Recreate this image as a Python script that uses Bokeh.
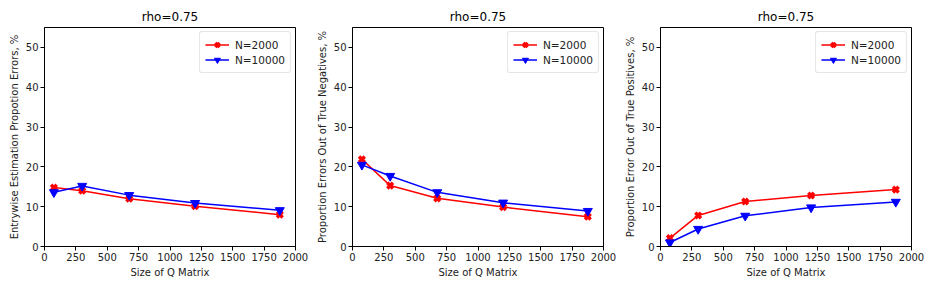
from bokeh.plotting import figure
from bokeh.layouts import row, column
from bokeh.embed import file_html
from bokeh.resources import INLINE
from bokeh.models import Range1d, FixedTicker, Spacer

q_size = [75, 300, 675, 1200, 1875]

err_2000 = [14.8, 14.0, 12.0, 10.1, 8.0]
err_10000 = [13.6, 15.2, 12.9, 10.9, 9.1]

tn_2000 = [21.9, 15.3, 12.1, 9.9, 7.5]
tn_10000 = [20.5, 17.7, 13.6, 11.0, 8.9]

tp_2000 = [2.1, 7.8, 11.3, 12.8, 14.3]
tp_10000 = [1.0, 4.4, 7.7, 9.8, 11.2]

titles = ["rho=0.75", "rho=0.75", "rho=0.75"]
ylabels = [
    "Entrywise Estimation Propotion Errors, %",
    "Proportion Errors Out of True Negatives, %",
    "Proportion Error Out of True Positives, %",
]
xlabel = "Size of Q Matrix"
series_labels = ["N=2000", "N=10000"]
x_ticks = [0, 250, 500, 750, 1000, 1250, 1500, 1750, 2000]
y_ticks = [0, 10, 20, 30, 40, 50]

data = [(err_2000, err_10000), (tn_2000, tn_10000), (tp_2000, tp_10000)]

FONT = "DejaVu Sans"
figs = []
for i, ((a, b), ttl, yl) in enumerate(zip(data, titles, ylabels)):
    p = figure(output_backend="svg", toolbar_location=None,
               x_range=Range1d(0, 2000), y_range=Range1d(0, 55),
               frame_width=251, frame_height=219,
               min_border_left=44, min_border_right=13, min_border_top=19, min_border_bottom=28)
    p.title.text = ttl
    p.title.align = "center"
    p.title.text_font = FONT
    p.title.text_font_size = "12px"
    p.title.text_font_style = "normal"
    p.title.text_color = "#000000"
    p.title.standoff = 8
    p.xgrid.visible = False
    p.ygrid.visible = False
    p.outline_line_color = "#000000"
    p.outline_line_alpha = 1.0
    p.background_fill_color = "white"
    p.border_fill_color = "white"
    for ax in (p.xaxis[0], p.yaxis[0]):
        ax.major_label_text_font = FONT
        ax.major_label_text_font_size = "10px"
        ax.major_label_text_color = "#222222"
        ax.axis_label_text_font = FONT
        ax.axis_label_text_font_size = "10px"
        ax.axis_label_text_font_style = "normal"
        ax.axis_label_text_color = "#222222"
        ax.minor_tick_line_color = None
        ax.major_tick_out = 4
        ax.major_tick_in = 0
        ax.axis_line_color = "#000000"
        ax.major_tick_line_color = "#000000"
        ax.major_label_standoff = 2
        ax.axis_label_standoff = 3
    p.xaxis.ticker = FixedTicker(ticks=x_ticks)
    p.yaxis.ticker = FixedTicker(ticks=y_ticks)
    p.xaxis.axis_label = xlabel
    p.yaxis.axis_label = yl

    p.line(q_size, a, line_color="red", line_width=1.5, legend_label=series_labels[0])
    p.scatter(q_size, a, marker="x", size=8, line_color="red", line_width=3.5,
              legend_label=series_labels[0])
    p.line(q_size, b, line_color="blue", line_width=1.5, legend_label=series_labels[1])
    p.scatter(q_size, b, marker="inverted_triangle", size=9, line_color="blue",
              fill_color="blue", legend_label=series_labels[1])

    lg = p.legend[0]
    lg.location = "top_right"
    lg.margin = 4
    lg.padding = 5
    lg.spacing = 0
    lg.label_text_font = FONT
    lg.label_text_font_size = "10.5px"
    lg.label_text_color = "#222222"
    lg.label_height = 15
    lg.glyph_height = 15
    lg.glyph_width = 24
    lg.label_standoff = 6
    lg.border_line_color = "#cccccc"
    lg.border_line_width = 1
    lg.border_radius = 3
    lg.background_fill_alpha = 0.8
    figs.append(p)

layout = column(Spacer(height=3), row(*figs, spacing=0), spacing=0)
open("out.html", "w").write(file_html(layout, INLINE))
